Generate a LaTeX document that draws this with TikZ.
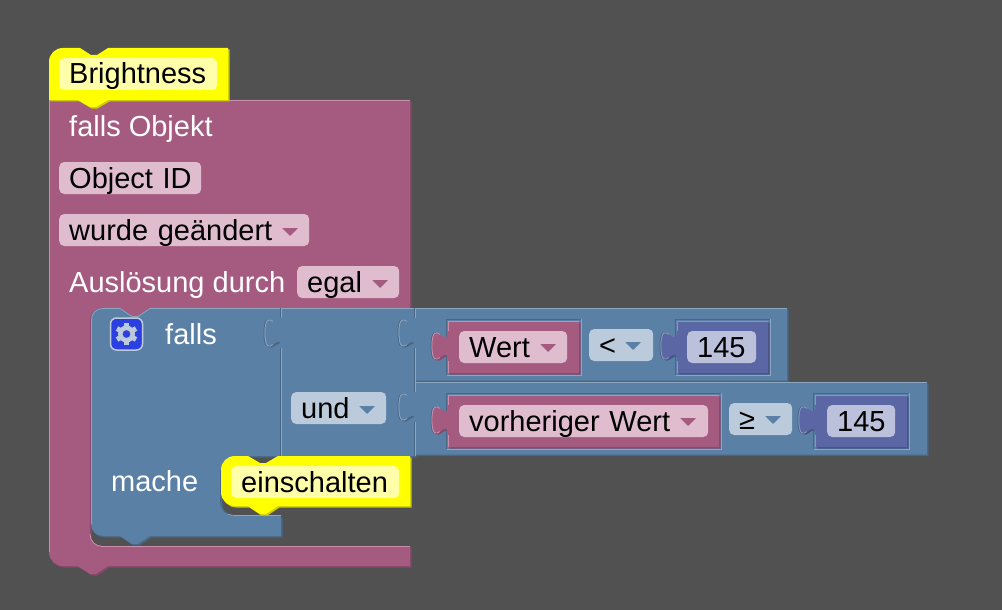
\documentclass[tikz,border=0pt]{standalone}
\usepackage{fontspec}
\setmainfont{Liberation Sans}

\definecolor{bgcol}{HTML}{515151}
\definecolor{pinkmain}{HTML}{A55B80}
\definecolor{pinklight}{HTML}{C98FAC}
\definecolor{pinkdark}{HTML}{84496A}
\definecolor{pinkpale}{HTML}{E0BDCE}
\definecolor{bluemain}{HTML}{5B80A5}
\definecolor{bluelight}{HTML}{8CA6C0}
\definecolor{bluedark}{HTML}{496684}
\definecolor{bluepale}{HTML}{BCCBDB}
\definecolor{violetmain}{HTML}{5B67A5}
\definecolor{violetlight}{HTML}{8C95C0}
\definecolor{violetdark}{HTML}{495284}
\definecolor{violetpale}{HTML}{BCC1DB}
\definecolor{yellowmain}{HTML}{FFFF00}
\definecolor{yellowlight}{HTML}{FFFF66}
\definecolor{yellowdark}{HTML}{CCCC00}
\definecolor{yellowpale}{HTML}{FFFFAA}
\definecolor{gearblue}{HTML}{2C3FE0}

\tikzset{
  block/.style={fill=#1main, preaction={fill=#1dark, transform canvas={shift={(1.5pt,-1.5pt)}}}},
  edge/.style={draw=#1, line width=0.8pt},
  field/.style={fill=#1, rounded corners=5pt, anchor=west, inner xsep=10pt, inner ysep=0pt,
    minimum height=32pt, text height=23pt, text depth=3pt, align=left, text=black,
    font=\fontsize{29}{32}\selectfont},
  lbl/.style={anchor=west, inner sep=0pt, text=white, text height=23pt, text depth=3pt,
    font=\fontsize{29}{32}\selectfont},
  gearbox/.style={fill=gearblue, draw=bluepale, line width=1.5pt, rounded corners=6pt, minimum size=32pt, inner sep=0pt},
}
\newcommand{\tabdown}[2]{-- (#1,#2) .. controls (#1,#2+20) and (#1-16,#2-16) .. (#1-16,#2+15) .. controls (#1-16,#2+46) and (#1,#2+10) .. (#1,#2+30)}
\newcommand{\tabedge}[2]{(#1-8,#2+3.4) .. controls (#1-12,#2+.75) and (#1-16,#2-.5) .. (#1-16,#2+15) .. controls (#1-16,#2+30.5) and (#1-12,#2+29.25) .. (#1-8,#2+26.6)}
\newcommand{\tabhole}[2]{\draw[edge=bluedark, xshift=-1pt] \tabedge{#1}{#2};}
\newcommand{\droparrow}[3]{\fill[#3, rounded corners=0.6pt] (#1,#2-4) -- (#1+16,#2-4) -- (#1+8,#2+4) -- cycle;}
\newcommand{\holebox}[4]{
  \draw[edge=bluedark] (#1,#4) -- (#1,#2) -- (#3,#2);
  \draw[edge=bluelight] (#3,#2) -- (#3,#4) -- (#1,#4);
}

\begin{document}
\begin{tikzpicture}[x=1pt,y=-1pt]
\useasboundingbox (0,0) rectangle (1002,610);
\fill[bgcol] (0,0) rectangle (1002,610);

\path[block=pink] (49,100) -- (410,100) -- (410,308) -- (150,308) -- (138,316) -- (132,316) -- (120,308) -- (102,308) .. controls (95,308) and (90,313) .. (90,320) -- (90,534) .. controls (90,541) and (95,546) .. (102,546) -- (410,546) -- (410,566) -- (108,566) -- (96,574) -- (90,574) -- (78,566) -- (63,566) .. controls (55,566) and (49,560) .. (49,552) -- cycle;
\draw[edge=pinklight] (49.5,552) -- (49.5,100.5) -- (410,100.5);
\draw[edge=pinklight] (90,534) .. controls (90,541) and (95,546) .. (102,546.5) -- (410,546.5);

\path[block=yellow] (49,62) .. controls (49,54) and (55,48) .. (63,48) -- (80,48) -- (91,55) -- (97,55) -- (108,48) -- (228,48) -- (228,100) -- (108,100) -- (96,107) -- (90,107) -- (78,100) -- (49,100) -- cycle;

\path[block=blue] (91,320) .. controls (91,313) and (96,308) .. (103,308) -- (120,308) -- (132,316) -- (138,316) -- (150,308) -- (281,308) -- (281,456) -- (235,456) .. controls (227,456) and (221,462) .. (221,470) -- (221,502) .. controls (221,510) and (227,516) .. (235,516) -- (281,516) -- (281,536) -- (150,536) -- (138,544) -- (132,544) -- (120,536) -- (103,536) .. controls (96,536) and (91,531) .. (91,524) -- cycle;
\draw[edge=bluelight] (91.5,524) -- (91.5,320) .. controls (91.5,313) and (96,308.5) .. (103,308.5) -- (120,308.5) -- (132,316.5) -- (138,316.5) -- (150,308.5) -- (281,308.5);
\draw[edge=bluedark] (220.5,470) -- (220.5,502) .. controls (220.5,507) and (223,511) .. (227,513);
\draw[edge=bluelight] (228,514) .. controls (230,515) and (232,515.5) .. (235,515.5) -- (281,515.5);

\tabhole{281}{318}
\path[block=blue] (281,308) \tabdown{281}{318} -- (281,456) -- (415,456) -- (415,308) -- cycle;
\draw[edge=bluedark] (280,308) -- (280,318) (280,348) -- (280,456);
\draw[edge=bluelight] (281.5,308) -- (281.5,318) (281.5,348) -- (281.5,456);
\draw[edge=bluelight] (281,308.5) -- (415,308.5);
\draw[edge=bluelight] \tabedge{281}{318};

\tabhole{415}{318}
\tabhole{415}{392}
\path[block=blue] (415,308) \tabdown{415}{318} -- (415,380.5) -- (787,380.5) -- (787,308) -- cycle;
\path[block=blue] (415,382) \tabdown{415}{392} -- (415,454.5) -- (927,454.5) -- (927,382) -- cycle;
\draw[edge=bluedark] (414,308) -- (414,318) (414,348) -- (414,392) (414,422) -- (414,456);
\draw[edge=bluelight] (415.5,308) -- (415.5,318) (415.5,348) -- (415.5,392) (415.5,422) -- (415.5,456);
\draw[edge=bluelight] (415,308.5) -- (787,308.5);
\draw[edge=bluelight] (415,382.5) -- (927,382.5);
\draw[edge=bluelight] \tabedge{415}{318};
\draw[edge=bluelight] \tabedge{415}{392};

\path[block=yellow] (221,470) .. controls (221,462) and (227,456) .. (235,456) -- (248,456) -- (260,463) -- (266,463) -- (278,456) -- (410,456) -- (410,506) -- (278,506) -- (266,514) -- (260,514) -- (248,506) -- (235,506) .. controls (227,506) and (221,500) .. (221,492) -- cycle;

\holebox{446.5}{319}{581}{375}
\holebox{675.5}{319}{770}{375}
\holebox{446.5}{393}{721}{449}
\holebox{813.5}{393}{909}{449}
\tabhole{448}{331}
\tabhole{677}{331}
\tabhole{448}{405}
\tabhole{815}{405}

\path[block=pink] (448,321) \tabdown{448}{331} -- (448,373) -- (579,373) -- (579,321) -- cycle;
\draw[edge=pinklight] (448.5,373) -- (448.5,361) (448.5,331) -- (448.5,321.5) -- (579,321.5);
\draw[edge=pinklight] \tabedge{448}{331};
\path[block=violet] (677,321) \tabdown{677}{331} -- (677,373) -- (768,373) -- (768,321) -- cycle;
\draw[edge=violetlight] (677.5,373) -- (677.5,361) (677.5,331) -- (677.5,321.5) -- (768,321.5);
\draw[edge=violetlight] \tabedge{677}{331};
\path[block=pink] (448,395) \tabdown{448}{405} -- (448,447) -- (719,447) -- (719,395) -- cycle;
\draw[edge=pinklight] (448.5,447) -- (448.5,435) (448.5,405) -- (448.5,395.5) -- (719,395.5);
\draw[edge=pinklight] \tabedge{448}{405};
\path[block=violet] (815,395) \tabdown{815}{405} -- (815,447) -- (907,447) -- (907,395) -- cycle;
\draw[edge=violetlight] (815.5,447) -- (815.5,435) (815.5,405) -- (815.5,395.5) -- (907,395.5);
\draw[edge=violetlight] \tabedge{815}{405};

\node[field=yellowpale, text width=138pt] (brightness) at (59,74) {Brightness};
\node[lbl] (fallsobjekt) at (69,126) {falls Objekt};
\node[field=pinkpale, text width=122pt] (objectid) at (59,178) {Object~ID};
\node[field=pinkpale, text width=230pt] (wurde) at (59,230) {wurde~geändert};
\droparrow{282}{232}{pinkmain}
\node[lbl] (ausloesung) at (69,282) {Auslösung durch};
\node[field=pinkpale, text width=82pt] (egal) at (297,282) {egal};
\droparrow{372}{284}{pinkmain}

\node[gearbox] (gear) at (126.5,334) {};
\fill[bluepale, even odd rule] (gear.center) circle (8.5pt) (gear.center) circle (4pt);
\foreach \a in {0,60,...,300}
  \fill[bluepale, rotate around={\a:(gear.center)}] ([xshift=-2.5pt,yshift=7pt]gear.center) rectangle ([xshift=2.5pt,yshift=11pt]gear.center);
\node[lbl] (falls) at (165,334) {falls};
\node[lbl] (mache) at (111,481) {mache};
\node[field=yellowpale, text width=148pt] (einschalten) at (231,482) {einschalten};

\node[field=bluepale, text width=75pt] (und) at (291,408) {und};
\droparrow{359}{410}{bluemain}
\node[field=pinkpale, text width=88pt] (wert) at (459,347) {Wert};
\droparrow{540}{348}{pinkmain}
\node[field=bluepale, text width=44pt] (lessthan) at (589,345) {<};
\droparrow{625}{346}{bluemain}
\node[field=violetpale, text width=49pt] (valuea) at (687,347) {145};
\node[field=pinkpale, text width=229pt] (vorher) at (459,421) {vorheriger~Wert};
\droparrow{680}{422}{pinkmain}
\node[field=bluepale, text width=43pt] (atleast) at (729,419) {≥};
\droparrow{765}{420}{bluemain}
\node[field=violetpale, text width=48pt] (valueb) at (827,421) {145};
\end{tikzpicture}
\end{document}
